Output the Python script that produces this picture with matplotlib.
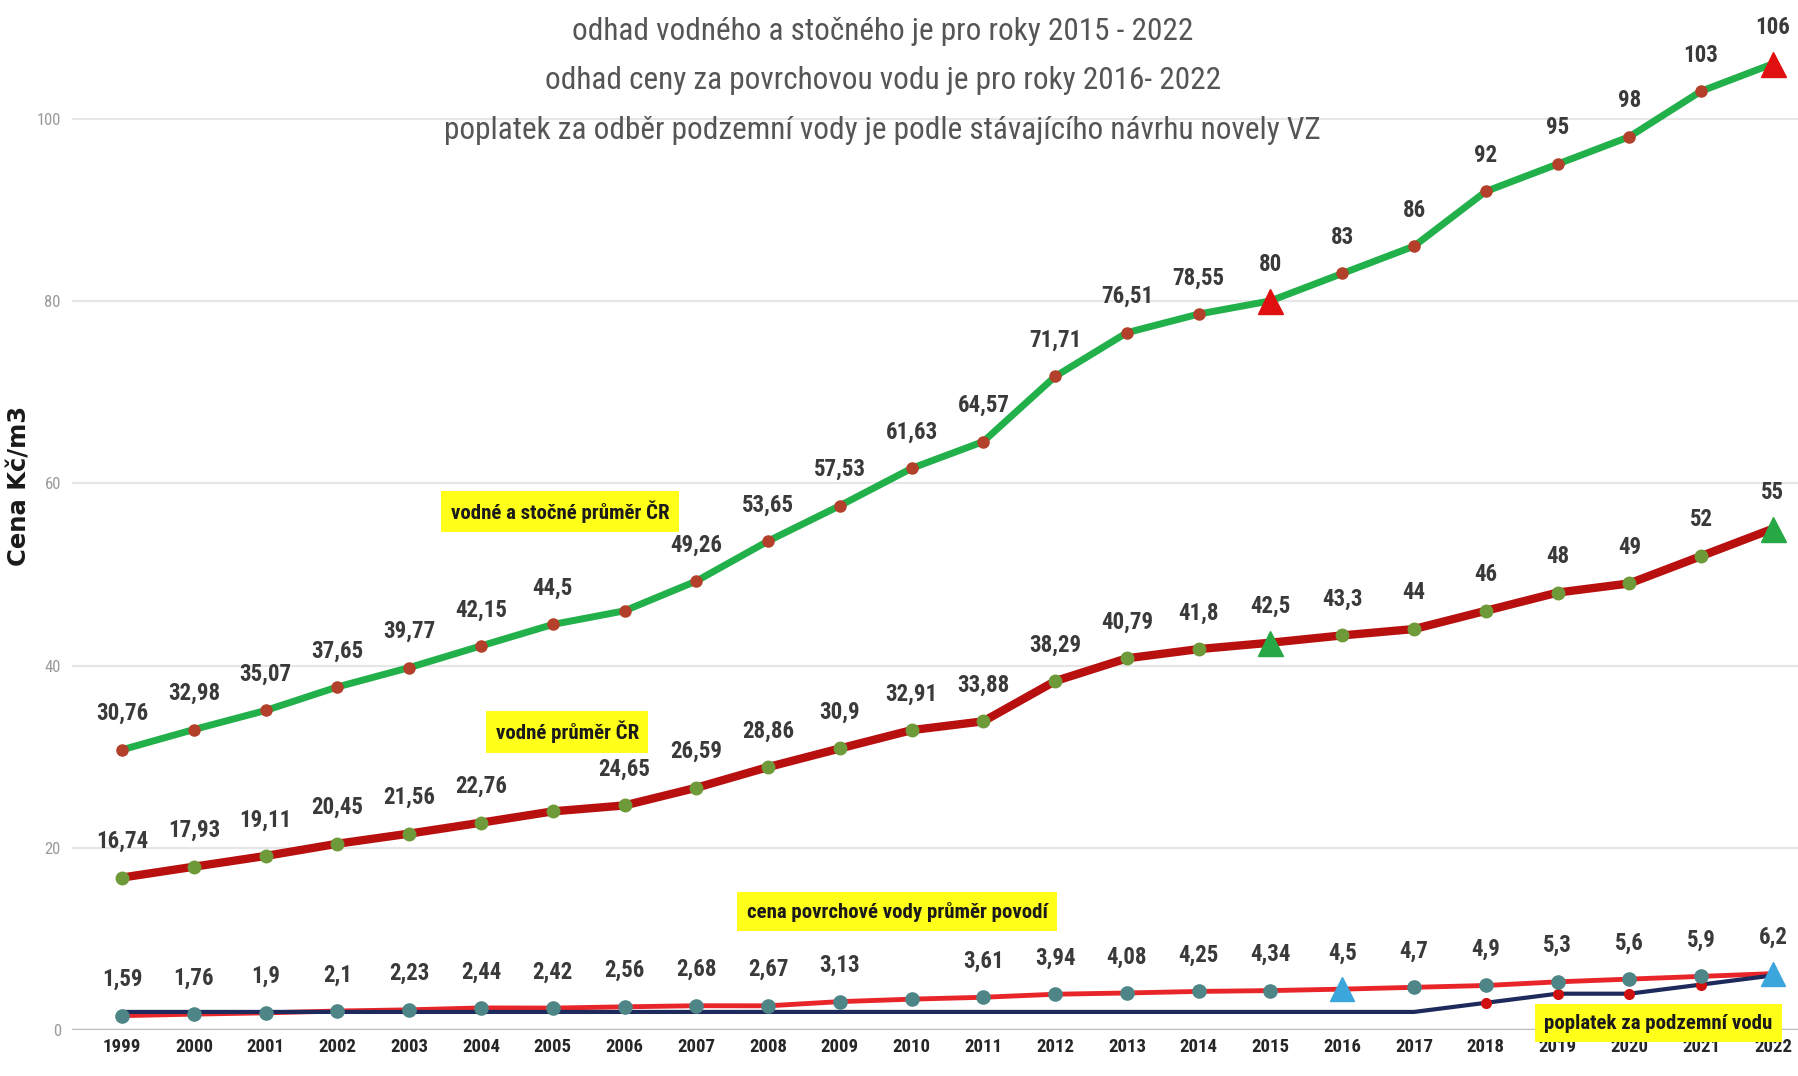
import matplotlib
matplotlib.use('AGG')
import matplotlib.pyplot as plt

# Ceny vody 1999-2022 (Kč/m3)
years = list(range(1999, 2023))
vodne_stocne = [30.76, 32.98, 35.07, 37.65, 39.77, 42.15, 44.5, 46.0, 49.26, 53.65,
                57.53, 61.63, 64.57, 71.71, 76.51, 78.55, 80, 83, 86, 92, 95, 98, 103, 106]
vodne_stocne_lbl = ['30,76', '32,98', '35,07', '37,65', '39,77', '42,15', '44,5', '', '49,26',
                    '53,65', '57,53', '61,63', '64,57', '71,71', '76,51', '78,55', '80', '83',
                    '86', '92', '95', '98', '103', '106']
vodne = [16.74, 17.93, 19.11, 20.45, 21.56, 22.76, 24.0, 24.65, 26.59, 28.86, 30.9, 32.91,
         33.88, 38.29, 40.79, 41.8, 42.5, 43.3, 44, 46, 48, 49, 52, 55]
vodne_lbl = ['16,74', '17,93', '19,11', '20,45', '21,56', '22,76', '', '24,65', '26,59',
             '28,86', '30,9', '32,91', '33,88', '38,29', '40,79', '41,8', '42,5', '43,3',
             '44', '46', '48', '49', '52', '55']
povrchova = [1.59, 1.76, 1.9, 2.1, 2.23, 2.44, 2.42, 2.56, 2.68, 2.67, 3.13, 3.4, 3.61,
             3.94, 4.08, 4.25, 4.34, 4.5, 4.7, 4.9, 5.3, 5.6, 5.9, 6.2]
povrchova_lbl = ['1,59', '1,76', '1,9', '2,1', '2,23', '2,44', '2,42', '2,56', '2,68', '2,67',
                 '3,13', '', '3,61', '3,94', '4,08', '4,25', '4,34', '4,5', '4,7', '4,9',
                 '5,3', '5,6', '5,9', '6,2']
podzemni = [2, 2, 2, 2, 2, 2, 2, 2, 2, 2, 2, 2, 2, 2, 2, 2, 2, 2, 2, 3, 4, 4, 5, 6]

# odhadnuté roky (trojúhelníky)
est_vs = [2015, 2022]
est_pov = [2016, 2022]

TITLE = ['odhad vodného a stočného je pro roky 2015 - 2022',
         'odhad ceny za povrchovou vodu je pro roky 2016- 2022',
         'poplatek za odběr podzemní vody je podle stávajícího návrhu novely VZ']
NARROW = ['Roboto Condensed', 'DejaVu Sans']
LBLCOL = '#3a3a3a'

fig = plt.figure(figsize=(17.98, 10.76), dpi=100)
ax = fig.add_axes([0.040, 0.0426, 0.960, 0.9574])
ax.set_xlim(1998.3, 2022.35)
ax.set_ylim(0, 113)

for y in range(20, 101, 20):
    ax.axhline(y, color='#e6e6e6', lw=1.5, zorder=0)
ax.axhline(0, color='#bdbdbd', lw=2.5, zorder=1)

# podzemní voda
ax.plot(years, podzemni, color='#1f2a5c', lw=3, zorder=3)
ax.plot(years[19:23], podzemni[19:23], 'o', color='#d01010', ms=7, zorder=4)

# povrchová voda
ax.plot(years, povrchova, color='#e8262a', lw=3.5, zorder=2)
pts = [(x, v) for x, v in zip(years, povrchova) if x not in est_pov]
ax.plot([p[0] for p in pts], [p[1] for p in pts], 'o', color='#4e8586', ms=9.5, zorder=5)
ax.plot(est_pov, [povrchova[years.index(x)] for x in est_pov], '^',
        color='#3aa6dc', ms=17, zorder=6)

# vodné
ax.plot(years, vodne, color='#b80f0f', lw=6, zorder=3)
pts = [(x, v) for x, v in zip(years, vodne) if x not in est_vs]
ax.plot([p[0] for p in pts], [p[1] for p in pts], 'o', color='#6e9a3a', ms=9, zorder=5)
ax.plot(est_vs, [vodne[years.index(x)] for x in est_vs], '^',
        color='#28a745', ms=18, zorder=6)

# vodné a stočné
ax.plot(years, vodne_stocne, color='#22b04b', lw=5, zorder=3)
pts = [(x, v) for x, v in zip(years, vodne_stocne) if x not in est_vs]
ax.plot([p[0] for p in pts], [p[1] for p in pts], 'o', color='#b3402a', ms=8, zorder=5)
ax.plot(est_vs, [vodne_stocne[years.index(x)] for x in est_vs], '^',
        color='#e01010', ms=18, zorder=6)

for vals, lbls in [(vodne_stocne, vodne_stocne_lbl), (vodne, vodne_lbl),
                   (povrchova, povrchova_lbl)]:
    for x, v, t in zip(years, vals, lbls):
        if t:
            ax.annotate(t, (x, v), xytext=(0, 26), textcoords='offset points',
                        ha='center', va='center', fontsize=16.5, fontweight='bold',
                        color=LBLCOL, family=NARROW)

box = dict(boxstyle='square,pad=0.45', facecolor='#ffff1a', edgecolor='none')
boxes = [(2005.1, 56.9, 'vodné a stočné průměr ČR'),
         (2005.2, 32.7, 'vodné průměr ČR'),
         (2009.8, 13.0, 'cena povrchové vody průměr povodí'),
         (2020.4, 0.75, 'poplatek za podzemní vodu')]
for bx, by, bt in boxes:
    ax.text(bx, by, bt, ha='center', va='center', fontsize=15, fontweight='bold',
            color='#1a1a1a', family=NARROW, bbox=box, zorder=7)

for i, line in enumerate(TITLE):
    fig.text(0.491, 0.971 - i * 0.046, line, ha='center', va='center', fontsize=22.5,
             color='#555555', family=NARROW)

ax.set_xticks(years)
ax.set_xticklabels([str(y) for y in years], fontsize=13.5, fontweight='bold',
                   color='#262626', family=NARROW)
ax.set_yticks(range(0, 101, 20))
ax.set_yticklabels([str(y) for y in range(0, 101, 20)], fontsize=12, color='#9a9a9a',
                   family=NARROW)
ax.tick_params(length=0, pad=6)
ax.tick_params(axis='y', pad=8)
for s in ax.spines.values():
    s.set_visible(False)

fig.text(0.011, 0.548, 'Cena Kč/m3', rotation=90, ha='center', va='center',
         fontsize=17.5, fontweight='bold', color='#1a1a1a')

plt.savefig('out.png', dpi=100)
